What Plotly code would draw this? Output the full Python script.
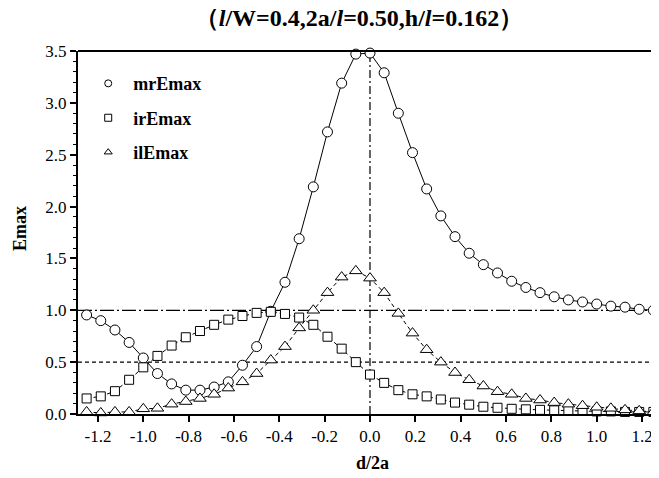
import plotly.graph_objects as go

# d/2a positions (step 1/16)
d2a = [-1.25, -1.1875, -1.125, -1.0625, -1.0, -0.9375, -0.875, -0.8125, -0.75, -0.6875,
       -0.625, -0.5625, -0.5, -0.4375, -0.375, -0.3125, -0.25, -0.1875, -0.125, -0.0625,
       0.0, 0.0625, 0.125, 0.1875, 0.25, 0.3125, 0.375, 0.4375, 0.5, 0.5625,
       0.625, 0.6875, 0.75, 0.8125, 0.875, 0.9375, 1.0, 1.0625, 1.125, 1.1875, 1.25]

mrEmax = [0.955, 0.90, 0.81, 0.69, 0.54, 0.39, 0.29, 0.23, 0.23, 0.26,
          0.31, 0.47, 0.65, 0.99, 1.27, 1.69, 2.19, 2.72, 3.19, 3.47,
          3.48, 3.29, 2.90, 2.52, 2.17, 1.91, 1.71, 1.55, 1.44, 1.36,
          1.28, 1.22, 1.17, 1.13, 1.10, 1.08, 1.06, 1.04, 1.03, 1.01, 1.00]

irEmax = [0.15, 0.17, 0.22, 0.33, 0.45, 0.56, 0.66, 0.74, 0.80, 0.86,
          0.91, 0.945, 0.975, 0.985, 0.965, 0.93, 0.86, 0.745, 0.63, 0.50,
          0.38, 0.30, 0.23, 0.19, 0.17, 0.14, 0.11, 0.09, 0.07, 0.06,
          0.05, 0.045, 0.04, 0.035, 0.03, 0.03, 0.025, 0.025, 0.02, 0.02, 0.02]

ilEmax = [0.02, 0.01, 0.02, 0.02, 0.05, 0.055, 0.095, 0.12, 0.15, 0.19,
          0.25, 0.31, 0.39, 0.52, 0.65, 0.83, 1.00, 1.17, 1.32, 1.38,
          1.31, 1.17, 0.97, 0.78, 0.62, 0.50, 0.40, 0.33, 0.27, 0.215,
          0.19, 0.15, 0.135, 0.11, 0.095, 0.08, 0.065, 0.055, 0.04, 0.03, 0.02]

series_names = ["mrEmax", "irEmax", "ilEmax"]
x_tick_vals = [-1.2, -1.0, -0.8, -0.6, -0.4, -0.2, 0.0, 0.2, 0.4, 0.6, 0.8, 1.0, 1.2]
x_tick_text = ["-1.2", "-1.0", "-0.8", "-0.6", "-0.4", "-0.2", "0.0", "0.2", "0.4", "0.6", "0.8", "1.0", "1.2"]
y_tick_vals = [0.0, 0.5, 1.0, 1.5, 2.0, 2.5, 3.0, 3.5]
y_tick_text = ["0.0", "0.5", "1.0", "1.5", "2.0", "2.5", "3.0", "3.5"]
ref_dashdot_y = 1.0
ref_dash_y = 0.5
ref_vertical_x = 0.0

SERIF = "Liberation Serif, Times New Roman, serif"

# the page body has an 8px default margin, so the figure is 8px smaller
FIG_W, FIG_H = 651, 470

fig = go.Figure()

styles = [
    (mrEmax, "circle", 10, dict(color="black", width=1)),
    (irEmax, "square", 9, dict(color="black", width=1, dash="4px,3px")),
    (ilEmax, "triangle-up", 11, dict(color="black", width=1, dash="4px,3px")),
]
for (ys, sym, size, line), name in zip(styles, series_names):
    fig.add_trace(go.Scatter(
        x=d2a, y=ys, mode="lines+markers", name=name, showlegend=False,
        line=line,
        marker=dict(symbol=sym, size=size, color="white",
                    line=dict(color="black", width=1)),
        cliponaxis=False,
    ))

# legend entries (marker only)
for (ys, sym, size, line), name in zip(styles, series_names):
    fig.add_trace(go.Scatter(
        x=[None], y=[None], mode="markers", name="<b>" + name + "</b>", legendgroup=name,
        marker=dict(symbol=sym, size=7, color="white",
                    line=dict(color="black", width=1)),
    ))

# reference lines
fig.add_shape(type="line", xref="paper", x0=0, x1=1, yref="y",
              y0=ref_dashdot_y, y1=ref_dashdot_y,
              line=dict(color="black", width=1.2, dash="14px,3px,2px,3px"), layer="below")
fig.add_shape(type="line", xref="paper", x0=0, x1=1, yref="y",
              y0=ref_dash_y, y1=ref_dash_y,
              line=dict(color="black", width=1.2, dash="4px,3px"), layer="below")
fig.add_shape(type="line", xref="x", x0=ref_vertical_x, x1=ref_vertical_x, yref="paper",
              y0=0, y1=1,
              line=dict(color="black", width=1.2, dash="8px,3px,2px,3px"), layer="below")

fig.update_layout(
    width=FIG_W, height=FIG_H,
    margin=dict(l=70, r=2, t=43, b=64, autoexpand=False),
    paper_bgcolor="white", plot_bgcolor="white",
    font=dict(family=SERIF, size=17, color="black"),
    title=dict(
        text="<b>（<i>l</i>/W=0.4,2a/<i>l</i>=0.50,h/<i>l</i>=0.162）</b>",
        x=351 / FIG_W, xanchor="center", y=1 - 10 / FIG_H, yanchor="middle",
        font=dict(family=SERIF, size=24, color="black"),
    ),
    showlegend=True,
    legend=dict(
        x=0.009, y=0.961, xanchor="left", yanchor="top",
        bgcolor="rgba(0,0,0,0)", borderwidth=0,
        font=dict(family=SERIF, size=18, color="black"),
        tracegroupgap=8, itemwidth=40,
    ),
    annotations=[
        dict(text="<b>Emax</b>", xref="paper", yref="paper", x=-58 / 579, y=(414 - 229) / 363,
             xanchor="center", yanchor="middle", textangle=-90, showarrow=False,
             font=dict(family=SERIF, size=18, color="black")),
        dict(text="<b>d/2a</b>", xref="paper", yref="paper", x=(372 - 78) / 579, y=-(463 - 414) / 363,
             xanchor="center", yanchor="middle", showarrow=False,
             font=dict(family=SERIF, size=18, color="black")),
    ],
)

fig.update_xaxes(
    range=[-1.288, 1.266], tickmode="array", tickvals=x_tick_vals, ticktext=x_tick_text,
    showgrid=False, zeroline=False, showline=True, linecolor="black", linewidth=2,
    ticks="outside", ticklen=6, tickcolor="black", tickwidth=1.5, automargin=False,
    tickfont=dict(family=SERIF, size=17, color="black"),
    tickprefix="<b>", ticksuffix="</b>",
)
fig.update_yaxes(
    range=[0, 3.5], tickmode="array", tickvals=y_tick_vals, ticktext=y_tick_text,
    showgrid=False, zeroline=False, showline=True, linecolor="black", linewidth=2,
    ticks="outside", ticklen=6, tickcolor="black", tickwidth=1.5, automargin=False,
    minor=dict(dtick=0.1, ticks="outside", ticklen=3, tickcolor="black", tickwidth=1),
    tickfont=dict(family=SERIF, size=17, color="black"),
    tickprefix="<b>", ticksuffix="</b>",
)

# top border line (no right border)
fig.add_shape(type="line", xref="paper", yref="paper", x0=0, x1=1, y0=1, y1=1,
              line=dict(color="black", width=2))

fig.write_html("out.html")
